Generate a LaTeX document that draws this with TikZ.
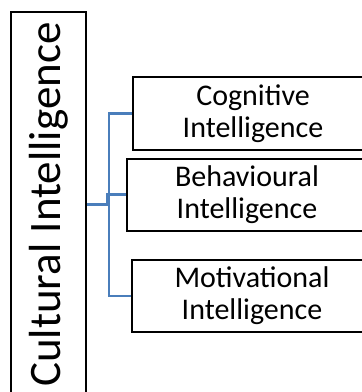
\documentclass[tikz,border=0pt]{standalone}
\usepackage{fontspec}
\setmainfont{Carlito}
\definecolor{linkblue}{HTML}{4A7EBB}
\tikzset{
  box/.style={draw=black, line width=1.5pt, inner sep=0pt, align=center},
  subbox/.style={box, minimum width=180pt, minimum height=54pt,
    font=\fontsize{22.5}{24}\selectfont},
  link/.style={draw=linkblue, line width=1.6pt}
}
\begin{document}
\begin{tikzpicture}[x=0.75pt, y=-0.75pt]
  \useasboundingbox (0,0) rectangle (361,392);
  % main box, text turned upright
  \node[box, minimum width=288.75pt, minimum height=56.25pt, rotate=90,
    font=\fontsize{33.75}{36}\selectfont] (cq) at (48.5,204.5) {Cultural Intelligence};
  % the three parts
  \node[subbox, minimum height=54.75pt] (cog) at (253,113.5) {Cognitive\\Intelligence};
  \node[subbox] (beh) at (247,194.5) {Behavioural\\Intelligence};
  \node[subbox] (mot) at (252,296) {Motivational\\Intelligence};
  % connectors
  \draw[link] (cq.south) -- ++(22,0) coordinate (jn);
  \draw[link] (cog.west) -| (jn) |- (mot.west);
  \draw[link] (beh.west) -| ([xshift=-1.5pt]jn);
\end{tikzpicture}
\end{document}
